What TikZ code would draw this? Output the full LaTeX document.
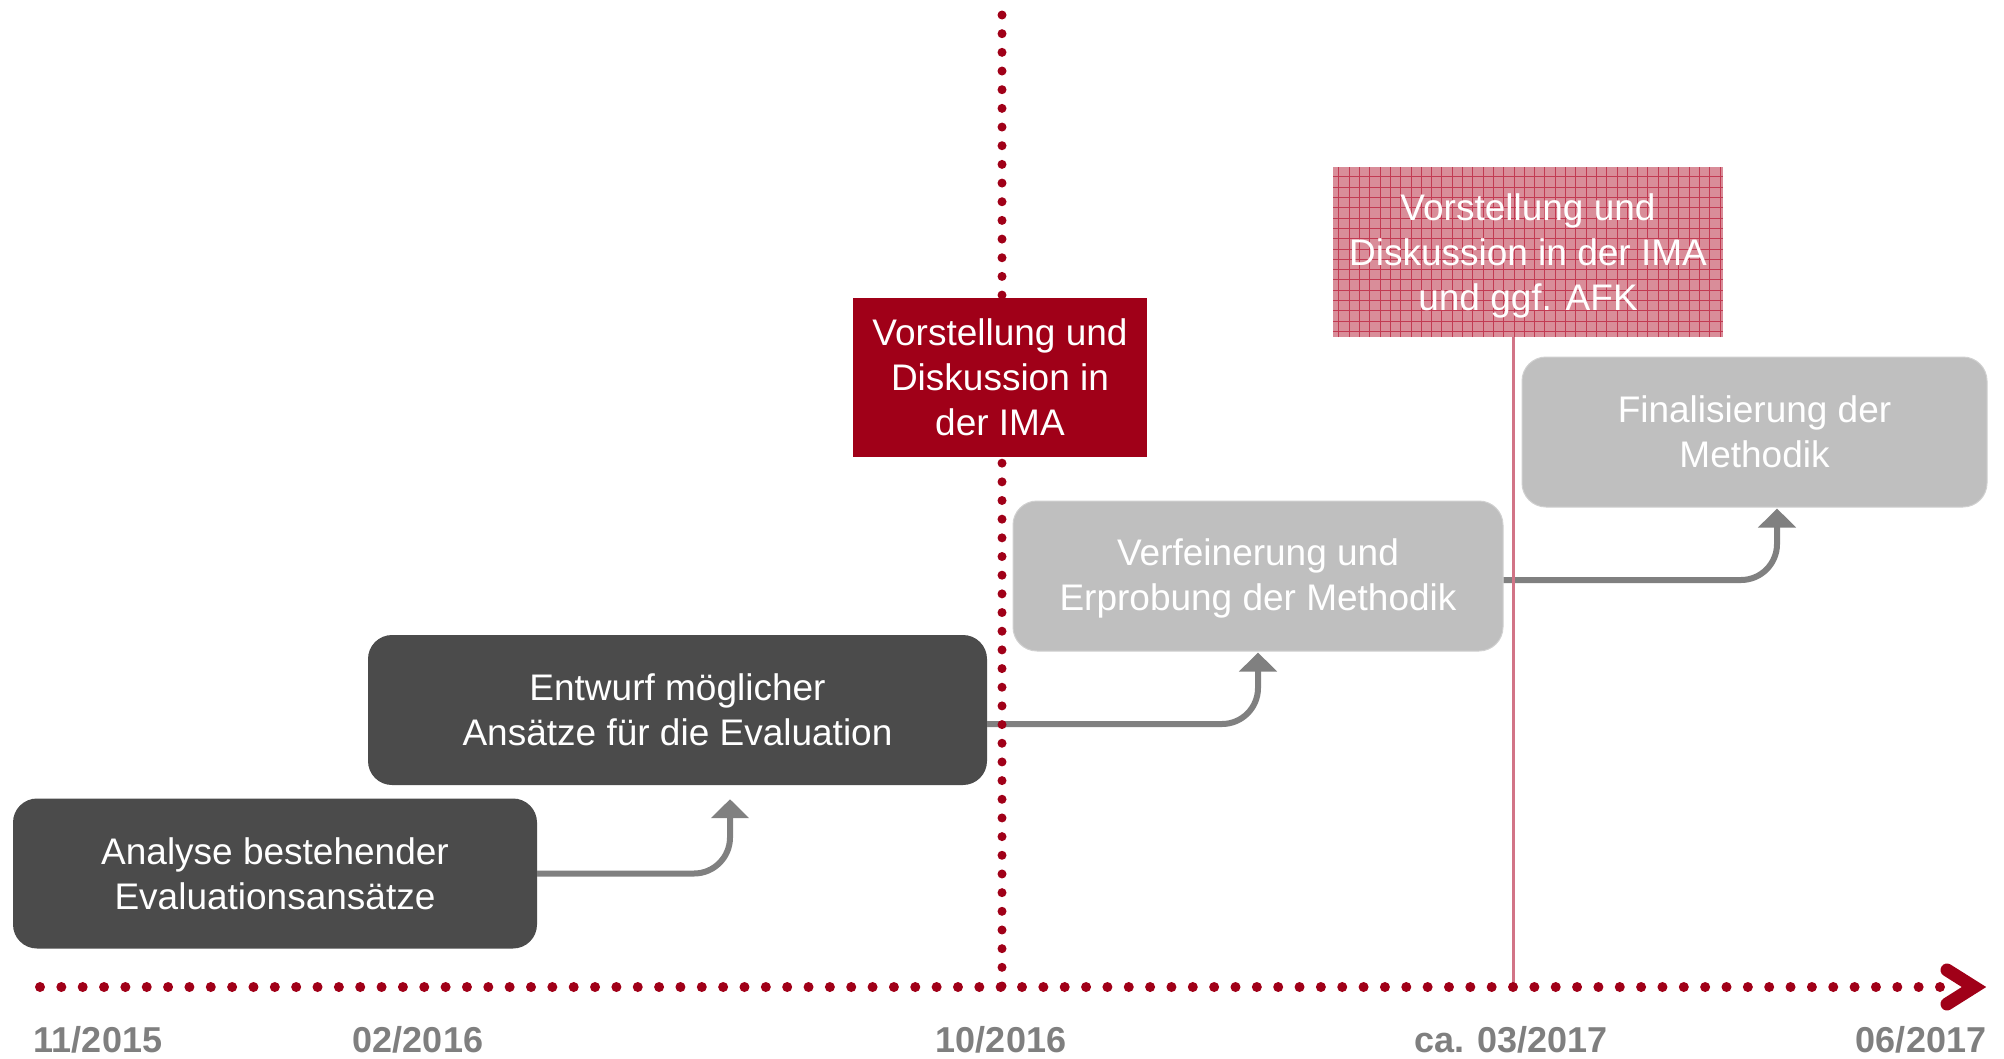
\documentclass[tikz,border=0pt]{standalone}
\usepackage{fontspec}
\setmainfont{Liberation Sans}
\usetikzlibrary{arrows.meta}
\definecolor{dkbox}{HTML}{4B4B4B}
\definecolor{ltbox}{HTML}{BFBFBF}
\definecolor{ltedge}{HTML}{D0D0D0}
\definecolor{conngray}{HTML}{808080}
\definecolor{axisred}{HTML}{A00018}
\definecolor{hatchfill}{HTML}{D98D99}
\definecolor{hatchline}{HTML}{C23A52}
\definecolor{pinkline}{HTML}{D27487}
\definecolor{dategray}{HTML}{7F7F7F}
\begin{document}
\begin{tikzpicture}[x=1pt,y=-1pt,
  boxtext/.style={font=\fontsize{37}{45}\selectfont, text=white, align=center, inner sep=0pt},
  darkbox/.style={boxtext, fill=dkbox, rounded corners=24pt},
  lightbox/.style={boxtext, fill=ltbox, draw=ltedge, line width=1pt, rounded corners=24pt},
  redbox/.style={boxtext, fill=axisred},
  hatchbox/.style={boxtext, fill=hatchfill,
    path picture={\draw[hatchline, line width=0.7pt] (path picture bounding box.south west) grid[step=10.3pt] (path picture bounding box.north east);}},
  conn/.style={draw=conngray, line width=6pt, rounded corners=36pt, -{Triangle[width=37pt,length=19pt]}},
  dotsh/.style={draw=axisred, line width=10pt, line cap=round, dash pattern=on 0pt off 21.348pt},
  dotsv/.style={draw=axisred, line width=9pt, line cap=round, dash pattern=on 0pt off 18.673pt},
  datelabel/.style={font=\bfseries\fontsize{36}{40}\selectfont, text=dategray, anchor=base, inner sep=0pt}
]
\useasboundingbox (0,0) rectangle (2004,1058);

% boxes
\node[darkbox, minimum width=524pt, minimum height=150pt] (b1) at (275,873.5) {Analyse bestehender\\Evaluationsansätze};
\node[darkbox, minimum width=619pt, minimum height=150pt] (b2) at (677.5,710) {Entwurf möglicher\\Ansätze für die Evaluation};
\node[lightbox, minimum width=490pt, minimum height=150pt] (b3) at (1258,576) {\rule{0pt}{32pt}Verfeinerung und\\Erprobung der Methodik};
\node[lightbox, minimum width=465pt, minimum height=150pt] (b4) at (1754.5,432) {Finalisierung der\\Methodik};

% connectors
\draw[conn] (b1.east) -| ([xshift=52.5pt,yshift=-14pt]b2.south);
\draw[conn] ([yshift=-14pt]b2.east) -| ([yshift=-1pt]b3.south);
\draw[conn] ([yshift=-4pt]b3.east) -| ([xshift=22.5pt,yshift=-1pt]b4.south);

% axis coordinates
\coordinate (axstart) at (40,987);
\coordinate (axend) at (1940,987);
\coordinate (tip) at (1974,987);
\coordinate (m1top) at (1002,15);
\coordinate (m1) at (1002,986);
\coordinate (m2) at (1513,987);

% milestone boxes
\node[hatchbox, minimum width=390pt, minimum height=170pt] (hatch) at (1528,252) {\rule{0pt}{35pt}Vorstellung und\\Diskussion in der IMA\\und ggf. AFK};

% pink line
\draw[pinkline, line width=3pt] (m2 |- hatch.south) -- (m2);

% dotted lines
\draw[dotsv] (m1top) -- (m1);
\draw[dotsh] (axstart) -- (axend);
\draw[axisred, line width=13pt, line cap=round, line join=miter] ([shift={(-27,-17)}]tip) -- (tip) -- ([shift={(-27,17)}]tip);

\node[redbox, minimum width=294pt, minimum height=159pt] (red) at (1000,377.5) {Vorstellung und\\Diskussion in\\der IMA};

% dates
\node[datelabel] (d1) at (98,1052) {11/2015};
\node[datelabel] (d2) at (418,1052) {02/2016};
\node[datelabel] (d3) at (1001,1052) {10/2016};
\node[datelabel] (d4) at (1511,1052) {ca. 03/2017};
\node[datelabel] (d5) at (1921,1052) {06/2017};
\end{tikzpicture}
\end{document}
